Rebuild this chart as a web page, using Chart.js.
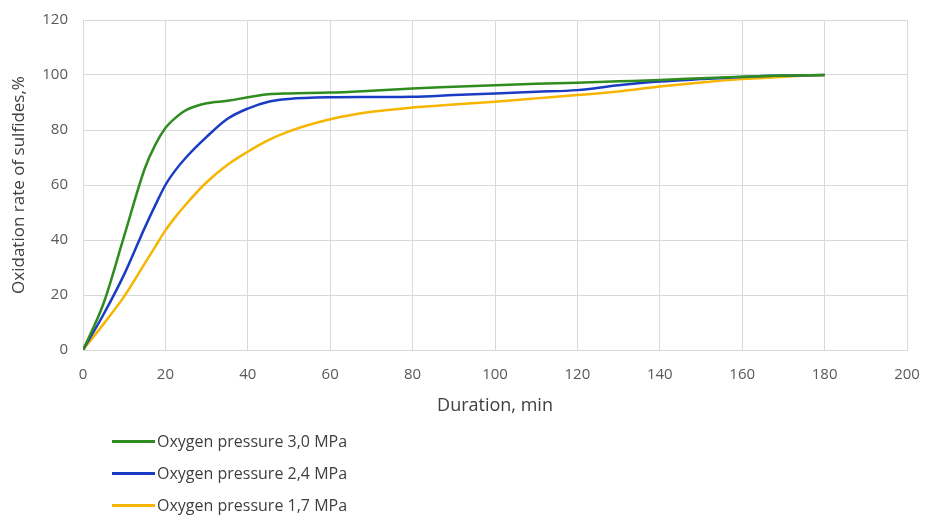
<!DOCTYPE html>
<html lang="en">
<head>
    <meta charset="UTF-8">
    <title>Oxidation rate of sulfides</title>
    <script src="https://cdn.jsdelivr.net/npm/chart.js"></script>
    <style>
        body { margin: 0; background: #fff; font-family: 'Open Sans', sans-serif; }
        #wrap { position: relative; width: 925px; height: 515px; }
        #legend { position: absolute; left: 112px; top: 425px; font-size: 16px; color: #404040; }
        #legend div { display: flex; align-items: center; height: 32px; }
        #legend span.line { display: inline-block; width: 43px; height: 3px; margin-right: 2px; }
    </style>
</head>
<body>
    <div id="wrap">
        <canvas id="chart" width="925" height="515"></canvas>
        <div id="legend"></div>
    </div>
    <script>
        // duration, min
        const durations = [0, 5, 10, 15, 17.5, 20, 22.5, 25, 30, 35, 40, 45, 50, 60, 70, 80, 90, 100, 110, 120, 130, 140, 150, 160, 170, 180];
        // oxidation rate of sulfides, %
        const p30 = [0, 17, 41.5, 66, 74.5, 80.7, 84.5, 87.2, 89.7, 90.6, 91.9, 93, 93.3, 93.6, 94.3, 95.1, 95.7, 96.3, 96.8, 97.2, 97.7, 98.2, 98.8, 99.4, 99.8, 100];
        const p24 = [0, 13, 27.5, 44.5, 52.5, 60, 65.5, 70, 77.5, 84, 87.8, 90.3, 91.3, 91.9, 92, 92.1, 92.7, 93.3, 93.9, 94.5, 96.3, 97.6, 98.5, 99.3, 99.8, 100];
        const p17 = [0, 9.5, 19.5, 31.5, 37.5, 43.5, 48.5, 53, 61, 67.3, 72.1, 76.3, 79.5, 83.9, 86.6, 88.2, 89.3, 90.3, 91.5, 92.7, 94, 95.8, 97.3, 98.5, 99.4, 100];
        const seriesNames = ['Oxygen pressure 3,0 MPa', 'Oxygen pressure 2,4 MPa', 'Oxygen pressure 1,7 MPa'];
        const colors = ['#2f8c1f', '#1a3cc4', '#f7b500'];

        const toPoints = vals => vals.map((v, i) => ({ x: durations[i], y: v }));
        const tickFont = { family: "'Open Sans', sans-serif", size: 15 };
        const gridColor = '#d9d9d9';

        const ctx = document.getElementById('chart').getContext('2d');
        const chart = new Chart(ctx, {
            type: 'line',
            data: {
                datasets: [p30, p24, p17].map((vals, i) => ({
                    label: seriesNames[i],
                    data: toPoints(vals),
                    borderColor: colors[i],
                    backgroundColor: colors[i],
                    borderWidth: 2.5,
                    pointRadius: 0,
                    cubicInterpolationMode: 'monotone',
                    fill: false
                }))
            },
            options: {
                responsive: false,
                animation: false,
                layout: { padding: { top: 20, right: 18, bottom: 95, left: 0 } },
                plugins: {
                    legend: { display: false },
                    tooltip: { enabled: false }
                },
                scales: {
                    x: {
                        type: 'linear',
                        min: 0,
                        max: 200,
                        ticks: { stepSize: 20, color: '#595959', font: tickFont, padding: 16 },
                        grid: { color: gridColor, drawTicks: false },
                        border: { color: gridColor },
                        title: { display: true, text: 'Duration, min', color: '#404040', font: { family: "'Open Sans', sans-serif", size: 18 }, padding: { top: 0, bottom: 3 } },
                        afterFit: s => { s.height = 70; s.paddingLeft = 0; s.paddingRight = 0; }
                    },
                    y: {
                        min: 0,
                        max: 120,
                        ticks: { stepSize: 20, color: '#595959', font: tickFont, padding: 15 },
                        grid: { color: gridColor, drawTicks: false },
                        border: { color: gridColor },
                        title: { display: true, text: 'Oxidation rate of sulfides,%', color: '#404040', font: { family: "'Open Sans', sans-serif", size: 17 }, padding: { top: 9, bottom: 0 } },
                        afterFit: s => { s.width = 83; s.paddingTop = 0; s.paddingBottom = 0; }
                    }
                }
            }
        });

        // vertical legend under the plot, like the original
        const legend = document.getElementById('legend');
        chart.data.datasets.forEach(ds => {
            const row = document.createElement('div');
            const line = document.createElement('span');
            line.className = 'line';
            line.style.background = ds.borderColor;
            row.appendChild(line);
            row.appendChild(document.createTextNode(ds.label));
            legend.appendChild(row);
        });
    </script>
</body>
</html>
